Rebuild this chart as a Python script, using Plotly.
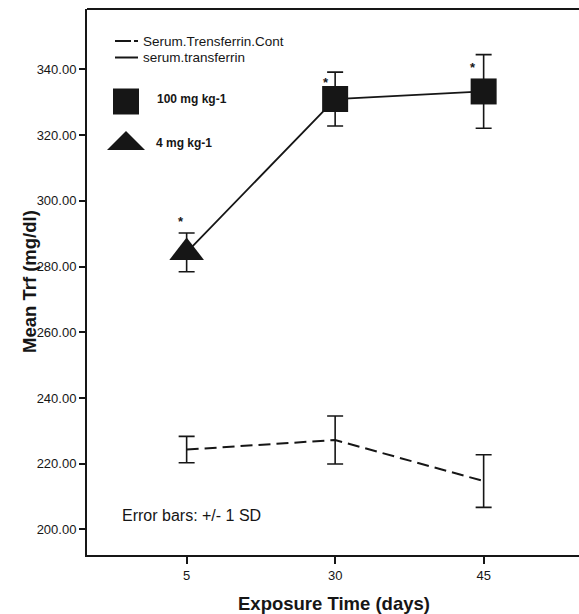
import plotly.graph_objects as go

# ---- data ----
days = ["5", "30", "45"]
treated_mean = [284.3, 331.0, 333.3]
treated_sd = [5.9, 8.2, 11.2]
control_mean = [224.3, 227.2, 214.7]
control_sd = [4.0, 7.3, 8.0]
treated_symbols = ["triangle-up", "square", "square"]
y_ticks = [200, 220, 240, 260, 280, 300, 320, 340]

INK = "#161616"
FONT = "Arial, Liberation Sans, sans-serif"

# plot-area geometry (pixels)
L, T, R, B = 87, 9, 0, 59
W, H = 579, 614
PW, PH = W - L - R, H - T - B
CAT_STEP = 148.5          # pixels between category ticks
X_LEFT = -0.671           # category units at the left axis


def fx(px):
    return (px - L) / PW


def fy(py):
    return 1 - (py - T) / PH


fig = go.Figure()

# control (dashed)
fig.add_trace(go.Scatter(
    x=days, y=control_mean, mode="lines",
    line=dict(color=INK, width=2, dash="12px,6px"),
    error_y=dict(type="data", array=control_sd, visible=True,
                 color=INK, thickness=1.6, width=8),
    showlegend=False, hoverinfo="skip"))

# treated (solid)
fig.add_trace(go.Scatter(
    x=days, y=treated_mean, mode="lines+markers",
    line=dict(color=INK, width=1.8),
    marker=dict(symbol=treated_symbols, size=[30, 26, 26], color=INK,
                opacity=1, line=dict(width=0)),
    error_y=dict(type="data", array=treated_sd, visible=True,
                 color=INK, thickness=1.6, width=8),
    showlegend=False, hoverinfo="skip"))

annotations = []
# asterisks (category index used for x)
star_offsets = [(-6, 31), (-9, 17), (-11, 24)]
for i, (m, (dx, dy)) in enumerate(zip(treated_mean, star_offsets)):
    annotations.append(dict(x=i, y=m, xref="x", yref="y", text="<b>*</b>",
                            showarrow=False, xshift=dx, yshift=dy,
                            font=dict(family=FONT, size=13, color=INK)))

# legend texts
annotations += [
    dict(x=fx(141), y=fy(41), text="Serum.Trensferrin.Cont", xanchor="left",
         font=dict(family=FONT, size=13.5, color=INK)),
    dict(x=fx(141), y=fy(57.5), text="serum.transferrin", xanchor="left",
         font=dict(family=FONT, size=13.5, color=INK)),
    dict(x=fx(155), y=fy(99.5), text="<b>100 mg kg-1</b>", xanchor="left",
         font=dict(family=FONT, size=12, color=INK)),
    dict(x=fx(154), y=fy(142.5), text="<b>4 mg kg-1</b>", xanchor="left",
         font=dict(family=FONT, size=12, color=INK)),
    dict(x=fx(120), y=fy(515), text="Error bars: +/- 1 SD", xanchor="left",
         font=dict(family=FONT, size=16, color=INK)),
    dict(x=fx(334), y=fy(603), text="<b>Exposure Time (days)</b>",
         font=dict(family=FONT, size=18.5, color=INK)),
    dict(x=fx(16.5), y=fy(282), text="<b>Mean Trf (mg/dl)</b>", textangle=-90,
         font=dict(family=FONT, size=18.5, color=INK)),
]
for a in annotations:
    a.setdefault("xref", "paper")
    a.setdefault("yref", "paper")
    a.setdefault("showarrow", False)
    a.setdefault("yanchor", "middle")

shapes = [
    dict(type="line", xref="paper", yref="paper", x0=fx(115), x1=fx(138),
         y0=fy(41), y1=fy(41),
         line=dict(color=INK, width=2, dash="16px,3px,4px,40px")),
    dict(type="line", xref="paper", yref="paper", x0=fx(115), x1=fx(138),
         y0=fy(57.5), y1=fy(57.5), line=dict(color=INK, width=2)),
    # legend square
    dict(type="rect", xref="paper", yref="paper", x0=fx(113), x1=fx(139),
         y0=fy(88.5), y1=fy(114.5), fillcolor=INK, line=dict(width=0)),
    # legend triangle
    dict(type="path", xref="paper", yref="paper",
         path=(f"M {fx(107)},{fy(150)} L {fx(145)},{fy(150)} "
               f"L {fx(126)},{fy(131)} Z"),
         fillcolor=INK, line=dict(width=0)),
    # top frame line
    dict(type="line", xref="paper", yref="paper", x0=0, x1=1, y0=1, y1=1,
         line=dict(color=INK, width=2)),
]

fig.update_layout(
    width=W, height=H,
    margin=dict(l=L, r=R, t=T, b=B),
    paper_bgcolor="white", plot_bgcolor="white",
    showlegend=False,
    annotations=annotations, shapes=shapes,
    xaxis=dict(type="category", range=[X_LEFT, X_LEFT + PW / CAT_STEP],
               showline=True, linecolor=INK, linewidth=2, mirror=False,
               ticks="outside", ticklen=7, tickwidth=1.5, tickcolor=INK,
               showgrid=False, zeroline=False,
               tickfont=dict(family=FONT, size=13, color=INK)),
    yaxis=dict(range=[192.2, 358.4], tickvals=y_ticks, tickformat=".2f",
               showline=True, linecolor=INK, linewidth=2, mirror=False,
               ticks="outside", ticklen=6, tickwidth=1.5, tickcolor=INK,
               showgrid=False, zeroline=False,
               tickfont=dict(family=FONT, size=13, color=INK)),
)

fig.write_html(
    "out.html",
    config={"displayModeBar": False},
    post_script="document.documentElement.style.overflow='hidden';"
                "document.body.style.overflow='hidden';"
                "document.body.style.margin='0';",
)
